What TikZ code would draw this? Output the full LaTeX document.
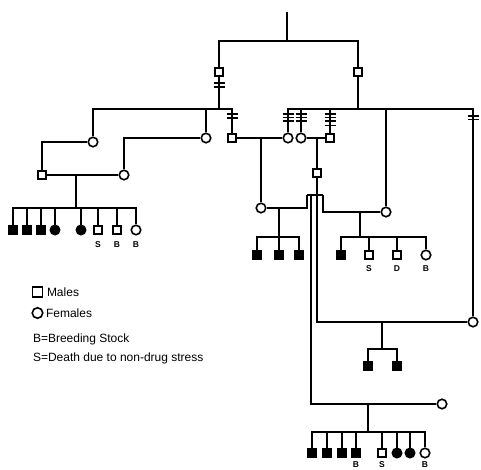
\documentclass[tikz,border=0pt]{standalone}
\usepackage{fontspec}
\setmainfont{Liberation Sans}
\newcommand\tickbars[2]{\foreach \yy in {#2} {\draw[barline] (#1-5.5,\yy) -- (#1+5.5,\yy);}}
\begin{document}
\begin{tikzpicture}[x=1pt,y=-1pt,
  line width=2pt,
  msq/.style={draw,fill=white,minimum size=8.5pt,inner sep=0pt,line width=1.6pt},
  fsq/.style={draw,fill=black,minimum size=9.5pt,inner sep=0pt,line width=1pt},
  oci/.style={circle,draw,fill=white,minimum size=9.5pt,inner sep=0pt,line width=1.6pt},
  fci/.style={circle,draw,fill=black,minimum size=10pt,inner sep=0pt,line width=1pt},
  lab/.style={font=\bfseries\fontsize{8.5}{9}\selectfont,inner sep=0pt},
  leg/.style={font=\fontsize{12}{14}\selectfont,anchor=west,inner sep=0pt},
  barline/.style={line width=1.3pt}]
\useasboundingbox (0,0) rectangle (481,470);

% generation I
\coordinate (top) at (287,12);
\coordinate (j0) at (287,41);
\node[msq] (A) at (219,72) {};
\node[msq] (B) at (358,72) {};
\draw (top) -- (j0);
\draw (A) |- (j0) -| (B);

% generation II left
\coordinate (jl) at (219,109);
\node[oci] (c93) at (93,142) {};
\node[oci] (c206) at (206,138) {};
\node[msq] (s232) at (232,138) {};
\draw (A) -- (jl);
\draw (c93) |- (jl) -| (s232);
\draw (c206) -- (c206|-jl);
\tickbars{219}{83,87}
\tickbars{232}{114,118}

% generation II right
\coordinate (jr) at (358,109);
\node[oci] (c288) at (288,138) {};
\node[oci] (c301) at (301,138) {};
\node[msq] (s330) at (330,138) {};
\node[oci] (c386) at (386,212) {};
\node[oci] (c473) at (473,322) {};
\draw (B) -- (jr);
\draw (c288) |- (jr) -| (c473);
\draw (c301) -- (c301|-jr);
\draw (s330) -- (s330|-jr);
\draw (c386) -- (c386|-jr);
\tickbars{288}{114,117.5,121}
\tickbars{301}{114,117.5,121}
\tickbars{330}{114,117.5,121,125.5}
\tickbars{473}{116,119.5}

% left family
\node[msq] (s42) at (42,175) {};
\node[oci] (c124) at (124,175) {};
\draw (c93) -| (s42);
\draw (c206) -| (c124);
\draw (s42) -- (c124);
\coordinate (m1) at (76,175);
\coordinate (k1) at (76,208);
\draw (m1) -- (k1);
\foreach \n/\xx/\st in {a/13/fsq,b/27/fsq,c/41/fsq,d/55/fci,e/81/fci,f/98/msq,g/117/msq,h/136/oci}{
  \node[\st] (L\n) at (\xx,230) {};
  \draw (L\n) |- (k1);
}
\node[lab] (lS1) at (98,245) {S};
\node[lab] (lB1) at (117,245) {B};
\node[lab] (lB2) at (136,245) {B};

% middle couples
\node[oci] (c261) at (261,208) {};
\draw (s232) -- (c288);
\draw (c301) -- (s330);
\coordinate (m2) at (261,138);
\draw (m2) -- (c261);
\coordinate (m3) at (317,138);
\node[msq] (s317) at (317,173) {};
\draw (m3) -- (s317);

% male s317 with four mates
\coordinate (d0) at (317,195);
\draw (s317) -- (d0);
\draw (307,195) -- (323,195);
\coordinate (da) at (307,195);
\coordinate (dd) at (323,195);
\coordinate (db) at (311,195);
\node[oci] (c442) at (442,404) {};
\draw (da) |- (c261);
\draw (dd) |- (c386);
\draw (db) |- (c442);
\draw (d0) |- (c473);

% children of s317 x c261
\coordinate (m4) at (279,208);
\coordinate (k4) at (279,237);
\draw (m4) -- (k4);
\foreach \n/\xx in {a/257,b/279,c/299}{
  \node[fsq] (M\n) at (\xx,255) {};
  \draw (M\n) |- (k4);
}

% children of s317 x c386
\coordinate (m5) at (360,212);
\coordinate (k5) at (360,237);
\draw (m5) -- (k5);
\foreach \n/\xx/\st in {a/341/fsq,b/369/msq,c/397/msq,d/426/oci}{
  \node[\st] (R\n) at (\xx,255) {};
  \draw (R\n) |- (k5);
}
\node[lab] (lS2) at (369,269) {S};
\node[lab] (lD2) at (397,269) {D};
\node[lab] (lB3) at (426,269) {B};

% children of s317 x c473
\coordinate (m6) at (382,322);
\coordinate (k6) at (382,349);
\draw (m6) -- (k6);
\foreach \n/\xx in {a/368,b/397}{
  \node[fsq] (T\n) at (\xx,366) {};
  \draw (T\n) |- (k6);
}

% children of s317 x c442
\coordinate (m7) at (368,404);
\coordinate (k7) at (368,432);
\draw (m7) -- (k7);
\foreach \n/\xx/\st in {a/312/fsq,b/327/fsq,c/342/fsq,d/356/fsq,e/382/msq,f/397/fci,g/410/fci,h/425/oci}{
  \node[\st] (U\n) at (\xx,453) {};
  \draw (U\n) |- (k7);
}
\node[lab] (lB4) at (356,465) {B};
\node[lab] (lS4) at (382,465) {S};
\node[lab] (lB5) at (425,465) {B};

% legend
\node[msq,minimum size=10pt] (kM) at (37.5,292) {};
\node[leg] (tM) at (46,292) {Males};
\node[oci,minimum size=10.5pt] (kF) at (37.5,313) {};
\node[leg] (tF) at (45,313) {Females};
\node[leg] (tB) at (32,339) {B=Breeding Stock};
\node[leg] (tS) at (32,358) {S=Death due to non-drug stress};
\end{tikzpicture}
\end{document}
